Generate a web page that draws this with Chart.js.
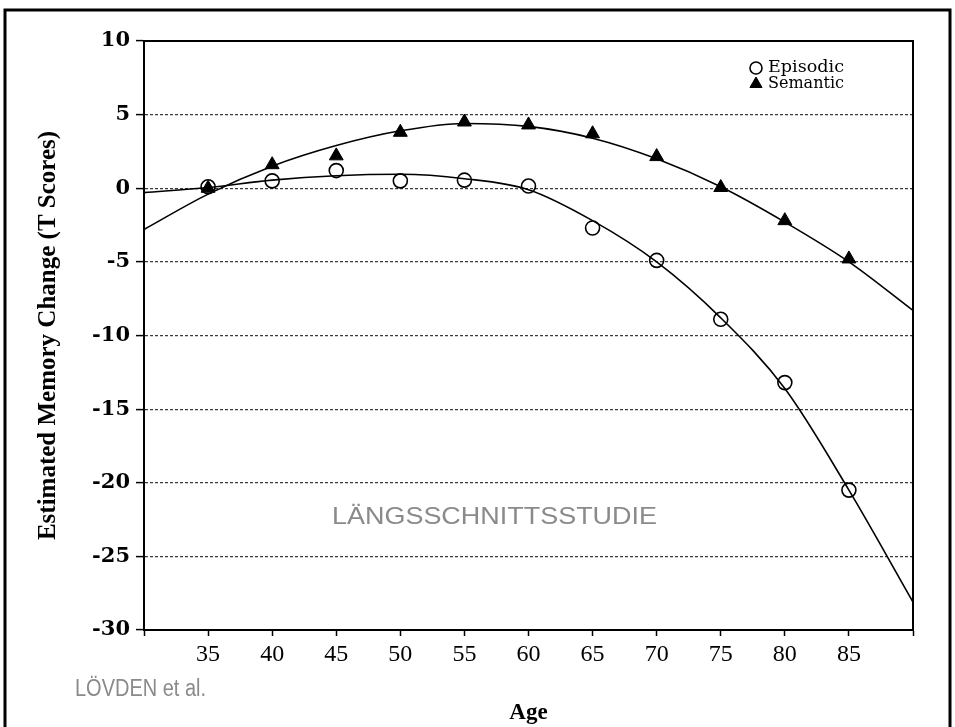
<!DOCTYPE html>
<html>
<head>
<meta charset="utf-8">
<script src="https://cdn.jsdelivr.net/npm/chart.js@4.4.1/dist/chart.umd.min.js"></script>
<style>
  html, body { margin: 0; padding: 0; background: #fff; }
  #wrap { width: 955px; height: 727px; position: relative; }
</style>
</head>
<body>
<div id="wrap"><canvas id="c" width="955" height="727"></canvas></div>
<script>
// ---- data ----
const ages = [35, 40, 45, 50, 55, 60, 65, 70, 75, 80, 85];
const episodic = [0.1, 0.5, 1.2, 0.5, 0.55, 0.15, -2.7, -4.9, -8.9, -13.2, -20.5];
const semantic = [0.0, 1.6, 2.2, 3.8, 4.5, 4.3, 3.7, 2.15, 0.05, -2.2, -4.8];

// fitted curves at 5-year steps
const fitAges = [30, 35, 40, 45, 50, 55, 60, 65, 70, 75, 80, 85, 90];
const episodicFit = [-0.3, 0.05, 0.55, 0.85, 0.95, 0.65, -0.1, -2.2, -5.0, -8.8, -13.6, -20.5, -28.1];
const semanticFit = [-2.8, -0.4, 1.5, 2.9, 3.9, 4.4, 4.2, 3.4, 2.0, 0.1, -2.3, -5.0, -8.3];

const xTickLabels = [35, 40, 45, 50, 55, 60, 65, 70, 75, 80, 85];
const yTickLabels = [10, 5, 0, -5, -10, -15, -20, -25, -30];

const seriesNames = ['Episodic', 'Semantic'];
const yTitle = 'Estimated Memory Change (T Scores)';
const xTitle = 'Age';
const watermark = 'LÄNGSSCHNITTSSTUDIE';
const credit = 'LÖVDEN et al.';

const pts = (xs, ys) => xs.map((x, i) => ({ x: x, y: ys[i] }));

const extras = {
  id: 'extras',
  afterDraw(chart) {
    const ctx = chart.ctx;
    const a = chart.chartArea;
    ctx.save();
    // plot frame top & right
    ctx.strokeStyle = '#000';
    ctx.lineWidth = 2;
    ctx.beginPath();
    ctx.moveTo(a.left, a.top);
    ctx.lineTo(a.right, a.top);
    ctx.lineTo(a.right, a.bottom);
    ctx.stroke();

    // legend inside the plot area
    const metas = [chart.getDatasetMeta(2), chart.getDatasetMeta(3)];
    const lx = a.right - 157;
    const ly = [a.top + 27, a.top + 43];
    ctx.font = '16px "DejaVu Serif"';
    ctx.textBaseline = 'middle';
    ctx.textAlign = 'left';
    metas.forEach((m, i) => {
      const ds = chart.data.datasets[m.index];
      ctx.save();
      ctx.lineWidth = ds.borderWidth;
      ctx.strokeStyle = ds.borderColor;
      ctx.fillStyle = ds.backgroundColor;
      Chart.helpers.drawPoint(ctx, { pointStyle: ds.pointStyle, radius: ds.pointRadius - 1, borderWidth: ds.borderWidth, rotation: 0 }, lx, ly[i]);
      ctx.restore();
      ctx.fillStyle = '#000';
      const tw = ctx.measureText(ds.label).width;
      ctx.save();
      ctx.translate(lx + 12, ly[i]);
      ctx.scale(76 / tw, 1);
      ctx.fillText(ds.label, 0, 0);
      ctx.restore();
    });

    // watermark texts
    ctx.fillStyle = '#8a8a8a';
    ctx.textAlign = 'left';
    ctx.textBaseline = 'middle';
    ctx.font = '24px "Liberation Sans"';
    let w = ctx.measureText(watermark).width;
    let sx = 325 / w;
    ctx.save();
    ctx.translate(332, 517);
    ctx.scale(sx, 1);
    ctx.fillText(watermark, 0, 0);
    ctx.restore();

    ctx.font = '23px "Liberation Sans Narrow", "Liberation Sans"';
    w = ctx.measureText(credit).width;
    sx = 131 / w;
    ctx.save();
    ctx.translate(75, 690);
    ctx.scale(sx, 1);
    ctx.fillText(credit, 0, 0);
    ctx.restore();

    // outer frame
    ctx.strokeStyle = '#000';
    ctx.lineWidth = 3;
    ctx.strokeRect(5, 10, 945, 740);
    ctx.restore();
  }
};

new Chart(document.getElementById('c'), {
  type: 'scatter',
  data: {
    datasets: [
      {
        label: seriesNames[0] + ' fit',
        data: pts(fitAges, episodicFit),
        showLine: true,
        borderColor: '#000',
        borderWidth: 1.6,
        pointRadius: 0,
        cubicInterpolationMode: 'monotone',
        order: 3
      },
      {
        label: seriesNames[1] + ' fit',
        data: pts(fitAges, semanticFit),
        showLine: true,
        borderColor: '#000',
        borderWidth: 1.6,
        pointRadius: 0,
        cubicInterpolationMode: 'monotone',
        order: 4
      },
      {
        label: seriesNames[0],
        data: pts(ages, episodic),
        pointStyle: 'circle',
        pointRadius: 7,
        borderWidth: 1.6,
        borderColor: '#000',
        backgroundColor: 'rgba(255,255,255,0)',
        order: 1
      },
      {
        label: seriesNames[1],
        data: pts(ages, semantic),
        pointStyle: 'triangle',
        pointRadius: 8,
        borderWidth: 1,
        borderColor: '#000',
        backgroundColor: '#000',
        order: 2
      }
    ]
  },
  options: {
    responsive: false,
    animation: false,
    layout: { padding: { left: 0, right: 42, top: 41, bottom: 0 } },
    plugins: { legend: { display: false }, tooltip: { enabled: false } },
    scales: {
      x: {
        type: 'linear',
        min: 30,
        max: 90,
        afterBuildTicks(s) { s.ticks = [30].concat(xTickLabels, [90]).map(v => ({ value: v })); },
        afterFit(s) { s.height = 97; },
        ticks: {
          autoSkip: false,
          maxRotation: 0,
          color: '#000',
          padding: 4,
          font: { family: '"Liberation Serif"', size: 24 },
          callback: v => (xTickLabels.includes(v) ? String(v) : '')
        },
        grid: { drawOnChartArea: false, tickLength: 6, tickColor: '#000', tickWidth: 1.5 },
        border: { color: '#000', width: 2 },
        title: {
          display: true,
          text: xTitle,
          color: '#000',
          font: { family: '"Liberation Serif"', size: 23, weight: 'bold' },
          padding: { top: 0, bottom: 0 }
        }
      },
      y: {
        min: -30,
        max: 10,
        afterBuildTicks(s) { s.ticks = yTickLabels.slice().reverse().map(v => ({ value: v })); },
        afterFit(s) { s.width = 144; },
        ticks: {
          color: '#000',
          padding: 6,
          font: { family: '"DejaVu Serif"', size: 21, weight: 'bold' },
          callback: v => String(v)
        },
        grid: {
          color: c => (c.tick && (c.tick.value === 10 || c.tick.value === -30)) ? 'rgba(0,0,0,0)' : '#3a3a3a',
          lineWidth: 1.2,
          tickLength: 8,
          tickColor: '#000',
          tickWidth: 1.5
        },
        border: { color: '#000', width: 2, dash: [3, 2] },
        title: {
          display: true,
          text: yTitle,
          color: '#000',
          font: { family: '"Liberation Serif"', size: 25, weight: 'bold' },
          padding: { top: 34, bottom: 0 }
        }
      }
    }
  },
  plugins: [extras]
});
</script>
</body>
</html>
